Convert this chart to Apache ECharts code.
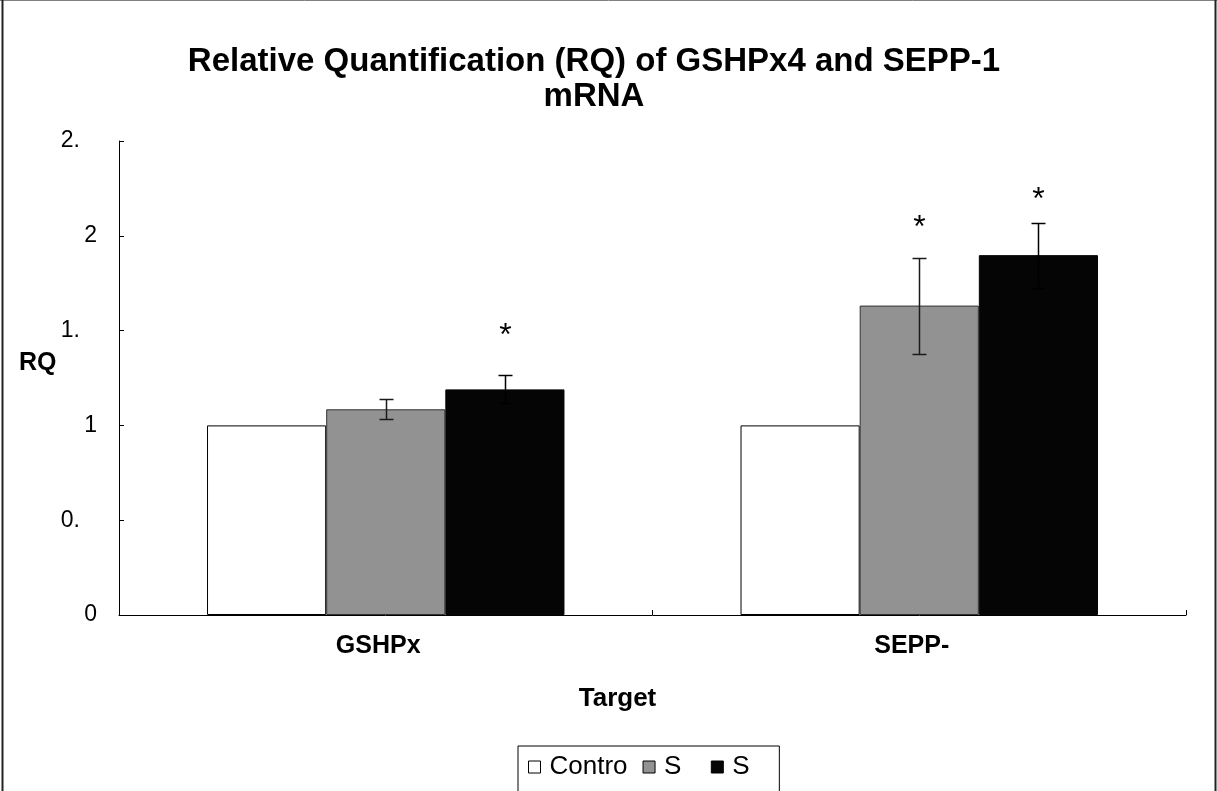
<!DOCTYPE html>
<html>
<head>
<meta charset="utf-8">
<script src="https://cdn.jsdelivr.net/npm/echarts@6/dist/echarts.min.js"></script>
<style>
  html, body { margin: 0; padding: 0; background: #fff; }
  #chart { width: 1217px; height: 791px; }
</style>
</head>
<body>
<div id="chart"></div>
<script>
// Targets on the x axis
const categories = ['GSHPx', 'SEPP-'];
// Legend names of the three groups (trailing no-break spaces keep the two "S" entries distinct and spaced)
const groupNames = ['Contro', 'S\u00a0\u00a0', 'S\u00a0\u00a0\u00a0'];
// Relative quantification per target
const controlRQ = [1.0, 1.0];
const s1RQ = [1.085, 1.632];
const s2RQ = [1.19, 1.898];
// Error (±) per target
const controlErr = [0, 0];
const s1Err = [0.053, 0.253];
const s2Err = [0.074, 0.172];
// Level of the significance asterisk (null = none)
const s1Star = [null, 2.07];
const s2Star = [1.5, 2.22];
// Y tick labels, as printed
const yTickLabels = ['0', '0.', '1', '1.', '2', '2.'];

const groupColors = ['#ffffff', '#929292', '#050505'];
const groupBorders = ['#000000', '#333333', '#050505'];
const errorColors = ['#000000', '#1a1a1a', '#000000'];
const FONT = 'Liberation Sans, Arial, sans-serif';
const CAT_GAP = 0.33;

const values = [controlRQ, s1RQ, s2RQ];
const errs = [controlErr, s1Err, s2Err];
const stars = [[null, null], s1Star, s2Star];

const chart = echarts.init(document.getElementById('chart'), null, { renderer: 'canvas' });

function errorSeries(k) {
  const data = categories.map((c, i) => [i, values[k][i], errs[k][i], stars[k][i]]);
  return {
    type: 'custom',
    name: 'err' + k,
    z: 5,
    silent: true,
    encode: { x: 0, y: 1 },
    data: data,
    renderItem: function (params, api) {
      const ci = api.value(0);
      const v = api.value(1);
      const e = api.value(2);
      const st = api.value(3);
      const band = api.size([1, 0])[0];
      const barW = band * (1 - CAT_GAP) / 3;
      const cx = Math.round(api.coord([ci, v])[0] + (k - 1) * barW) + 0.5;
      const children = [];
      if (e > 0) {
        const top = Math.round(api.coord([ci, v + e])[1]) + 0.5;
        const bot = Math.round(api.coord([ci, v - e])[1]) + 0.5;
        const lineStyle = { stroke: errorColors[k], lineWidth: 1.5 };
        children.push({ type: 'line', shape: { x1: cx, y1: top, x2: cx, y2: bot }, style: lineStyle });
        children.push({ type: 'line', shape: { x1: cx - 7, y1: top, x2: cx + 7, y2: top }, style: lineStyle });
        children.push({ type: 'line', shape: { x1: cx - 7, y1: bot, x2: cx + 7, y2: bot }, style: lineStyle });
      }
      if (st != null && !isNaN(st)) {
        const sy = api.coord([ci, st])[1];
        children.push({
          type: 'text',
          style: { x: cx, y: sy + 6, text: '*', align: 'center', verticalAlign: 'middle',
                   font: '32px ' + FONT, fill: '#000' }
        });
      }
      return { type: 'group', children: children };
    }
  };
}

const barSeries = groupNames.map((name, k) => ({
  type: 'bar',
  name: name,
  data: values[k],
  barGap: '0%',
  barCategoryGap: (CAT_GAP * 100) + '%',
  itemStyle: { color: groupColors[k], borderColor: groupBorders[k], borderWidth: 1 },
  emphasis: { disabled: true }
}));

const option = {
  animation: false,
  backgroundColor: '#ffffff',
  grid: { left: 119, right: 31, top: 141, bottom: 176, containLabel: false },
  graphic: [
    {
      type: 'text', x: 594, y: 44, z: 10,
      style: {
        text: 'Relative Quantification (RQ) of GSHPx4 and SEPP-1\nmRNA',
        font: 'bold 33px ' + FONT, align: 'center', lineHeight: 35, fill: '#000'
      }
    },
    {
      type: 'text', x: 19, y: 363, z: 10,
      style: { text: 'RQ', font: 'bold 25px ' + FONT, verticalAlign: 'middle', fill: '#000' }
    },
    // page frame
    { type: 'line', shape: { x1: 0, y1: 0.5, x2: 1217, y2: 0.5 }, style: { stroke: '#808080', lineWidth: 1 } },
    { type: 'line', shape: { x1: 2.5, y1: 0, x2: 2.5, y2: 791 }, style: { stroke: '#222', lineWidth: 2 } },
    { type: 'line', shape: { x1: 1215.5, y1: 0, x2: 1215.5, y2: 791 }, style: { stroke: '#222', lineWidth: 2 } }
  ],
  legend: {
    data: groupNames,
    left: 518,
    top: 746,
    orient: 'horizontal',
    itemWidth: 12,
    itemHeight: 12,
    itemGap: 15,
    padding: [8, 8, 30, 10],
    borderColor: '#000',
    borderWidth: 1,
    icon: 'rect',
    selectedMode: false,
    textStyle: { fontFamily: FONT, fontSize: 26, color: '#000', padding: [0, 0, 0, 4] },
    itemStyle: { borderColor: '#000', borderWidth: 1 }
  },
  xAxis: {
    type: 'category',
    data: categories,
    name: 'Target',
    nameLocation: 'middle',
    nameGap: 71,
    nameTextStyle: { fontFamily: FONT, fontSize: 26, fontWeight: 'bold', color: '#000', padding: [0, 70, 0, 0] },
    axisLine: { lineStyle: { color: '#000', width: 1 } },
    axisTick: { show: true, inside: true, length: 5, lineStyle: { color: '#000' } },
    axisLabel: { fontFamily: FONT, fontSize: 25, fontWeight: 'bold', color: '#000', margin: 19, padding: [0, 15, 0, 0] },
    splitLine: { show: false }
  },
  yAxis: {
    type: 'value',
    min: 0,
    max: 2.5,
    interval: 0.5,
    axisLine: { show: true, lineStyle: { color: '#000', width: 1 } },
    axisTick: { show: true, inside: true, length: 5, lineStyle: { color: '#000' } },
    axisLabel: {
      fontFamily: FONT, fontSize: 23, color: '#000', margin: 22,
      formatter: function (v) {
        const s = yTickLabels[Math.round(v / 0.5)];
        return s.endsWith('.') ? '{d|' + s + '}' : s;
      },
      rich: { d: { fontFamily: FONT, fontSize: 23, color: '#000', padding: [0, 17, 0, 0] } }
    },
    splitLine: { show: false }
  },
  series: barSeries.concat([errorSeries(1), errorSeries(2)])
};

chart.setOption(option);
</script>
</body>
</html>
